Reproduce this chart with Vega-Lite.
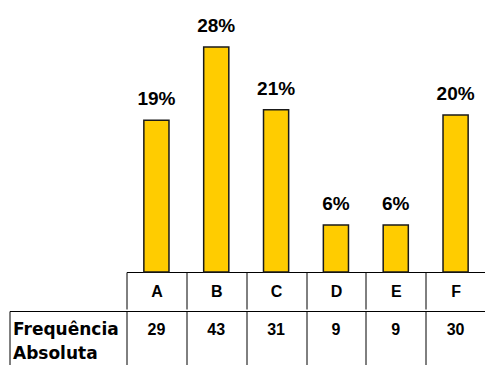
{
  "$schema": "https://vega.github.io/schema/vega-lite/v6.json",
  "padding": {"left": 8.5, "top": 0, "right": 0, "bottom": 0},
  "background": "white",
  "config": {"view": {"stroke": null}, "font": "Liberation Sans"},
  "data": {"values": [
    {"cat": "A", "freq": 29, "pct": "19%", "row": "Frequência Absoluta"},
    {"cat": "B", "freq": 43, "pct": "28%", "row": "Frequência Absoluta"},
    {"cat": "C", "freq": 31, "pct": "21%", "row": "Frequência Absoluta"},
    {"cat": "D", "freq": 9, "pct": "6%", "row": "Frequência Absoluta"},
    {"cat": "E", "freq": 9, "pct": "6%", "row": "Frequência Absoluta"},
    {"cat": "F", "freq": 30, "pct": "20%", "row": "Frequência Absoluta"}
  ]},
  "spacing": 0,
  "vconcat": [
    {
      "width": 359,
      "height": 272,
      "layer": [
        {
          "mark": {"type": "bar", "width": {"band": 0.42}, "color": "#FFCC00", "stroke": "#1a1a1a", "strokeWidth": 1.5},
          "encoding": {
            "x": {
              "field": "cat", "type": "nominal", "sort": null,
              "scale": {"paddingInner": 0, "paddingOuter": 0},
              "axis": {
                "title": null, "orient": "bottom", "labelAngle": 0, "grid": false,
                "domainColor": "black", "tickColor": "black", "tickSize": 37, "tickBand": "extent",
                "labelFont": "Liberation Sans", "labelFontWeight": "bold", "labelFontSize": 16,
                "labelColor": "black", "labelBaseline": "middle", "labelPadding": -18
              }
            },
            "y": {"field": "freq", "type": "quantitative", "scale": {"domain": [0, 52], "nice": false}, "axis": null}
          }
        },
        {
          "mark": {"type": "text", "font": "Liberation Sans", "fontWeight": "bold", "fontSize": 19, "baseline": "alphabetic", "dy": -15, "color": "black"},
          "encoding": {
            "x": {"field": "cat", "type": "nominal", "sort": null},
            "y": {"field": "freq", "type": "quantitative"},
            "text": {"field": "pct"}
          }
        }
      ]
    },
    {
      "width": 359,
      "height": 55,
      "resolve": {"scale": {"y": "shared"}, "axis": {"y": "independent"}},
      "encoding": {
        "x": {
          "field": "cat", "type": "nominal", "sort": null,
          "scale": {"paddingInner": 0, "paddingOuter": 0},
          "axis": {
            "title": null, "orient": "top", "labels": false, "ticks": false,
            "domainColor": "black", "grid": true, "gridColor": "black", "gridOpacity": 1, "tickBand": "extent"
          }
        }
      },
      "layer": [
        {
          "mark": {"type": "text", "font": "Liberation Sans", "fontWeight": "bold", "fontSize": 16, "baseline": "middle", "dy": -9, "color": "black"},
          "encoding": {
            "y": {
              "field": "row", "type": "nominal",
              "axis": {
                "title": null, "orient": "left", "offset": 0, "grid": false, "domain": false,
                "ticks": true, "tickColor": "black", "tickOpacity": 1, "tickWidth": 1, "tickSize": 117, "tickBand": "extent",
                "labelAlign": "left", "labelBaseline": "top", "labelPadding": -3, "labelOffset": -17.5,
                "labelFont": "DejaVu Sans", "labelFontWeight": "bold", "labelFontSize": 17, "labelColor": "black",
                "labelExpr": "split(datum.label, ' ')", "labelLineHeight": 24
              }
            },
            "text": {"field": "freq", "type": "quantitative"}
          }
        },
        {
          "mark": {"type": "text", "opacity": 0},
          "encoding": {
            "y": {
              "field": "row", "type": "nominal",
              "axis": {
                "title": null, "orient": "left", "offset": 117, "grid": false,
                "domainColor": "black", "ticks": false, "labels": false
              }
            },
            "text": {"field": "freq", "type": "quantitative"}
          }
        }
      ]
    }
  ]
}
